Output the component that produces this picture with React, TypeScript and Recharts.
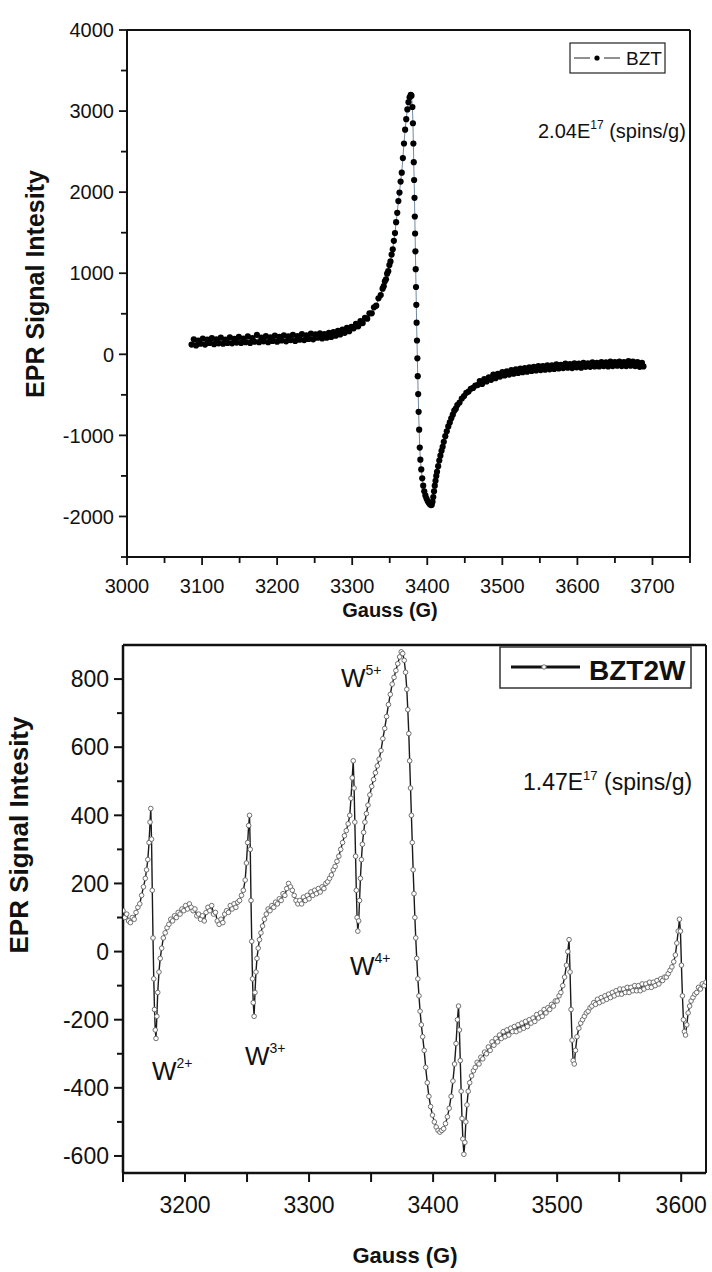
import React from 'react';
import { LineChart, Line, XAxis, YAxis, ReferenceLine } from 'recharts';

const FONT = '"Liberation Sans", Arial, Helvetica, sans-serif';
const INK = '#111';

// ---------- Chart 1 : BZT (field G, signal) ----------
const bztBaseline: number[][] = [
  [3086,120],[3089,185],[3092,110],[3095,170],[3098,130],[3101,195],[3104,120],[3107,180],[3110,140],[3113,200],
  [3116,125],[3119,185],[3122,135],[3125,205],[3128,130],[3131,180],[3134,140],[3137,210],[3140,135],[3143,190],
  [3146,145],[3149,215],[3152,140],[3155,195],[3158,150],[3161,220],[3164,140],[3167,200],[3170,155],[3173,240],
  [3176,150],[3179,205],[3182,160],[3185,225],[3188,150],[3191,210],[3194,165],[3197,230],[3200,155],[3203,215],
  [3206,170],[3209,235],[3212,160],[3215,220],[3218,175],[3221,240],[3224,165],[3227,225],[3230,180],[3233,250],
  [3236,175],[3239,235],[3242,190],[3245,255],[3248,185],[3251,245],[3254,205],[3257,260],[3260,195],[3263,250],
  [3266,205],[3269,265],[3272,215],[3275,275],[3278,230],[3281,290],[3284,245],[3287,305],[3290,265],[3293,325],
  [3296,285],[3299,340],
];
const bztRise: number[][] = [
  [3302,320],[3305,375],[3308,345],[3311,410],[3314,385],[3317,450],[3320,440],[3323,505],[3326,505],[3329,580],
  [3332,600],[3335,690],[3338,730],[3340.5,810],[3342,840],[3343.5,900],[3345,925],[3346.5,995],[3348,1025],[3349.5,1100],
  [3351,1145],[3352.5,1230],[3354,1295],[3355.5,1400],[3357,1495],[3358.5,1630],[3360,1745],[3361.5,1890],[3363,1995],[3364.5,2130],
  [3366,2240],[3367.5,2420],[3369,2600],[3370.5,2770],[3372,2900],[3373.5,3020],[3375,3110],[3376.5,3170],[3378,3200],[3379,3190],
];
const bztFall: number[][] = [
  [3380.2,3050],[3380.9,2850],[3381.5,2600],[3382,2370],[3382.5,2150],[3383,1930],[3383.4,1700],[3383.8,1490],[3384.2,1270],[3384.6,1050],
  [3385,830],[3385.4,610],[3385.8,390],[3386.3,170],[3386.8,-50],[3387.3,-270],[3387.9,-490],[3388.5,-710],[3389.2,-930],[3390,-1150],
  [3390.8,-1300],[3392,-1420],[3393.3,-1530],[3394.6,-1620],[3396,-1690],[3397.5,-1740],[3399,-1780],[3400.5,-1810],[3402,-1830],[3403.5,-1850],
  [3405,-1860],[3406,-1855],[3407,-1820],[3408,-1760],[3409,-1690],[3410,-1620],[3411,-1560],[3412,-1500],[3413,-1450],[3414.5,-1380],
  [3416,-1310],[3417.5,-1250],[3419,-1190],[3420.5,-1140],[3422,-1080],[3424,-1010],[3426,-950],[3428,-890],[3430,-840],[3432,-790],
  [3434,-745],[3436,-695],[3438,-670],[3440,-625],[3443,-595],[3446,-545],[3449,-515],[3452,-475],[3455,-460],[3458,-425],
  [3461,-415],[3464,-385],
];
const bztTail: number[][] = [
  [3467,-380],[3470,-330],[3473,-365],[3476,-305],[3479,-335],[3482,-285],[3485,-315],[3488,-250],[3491,-295],[3494,-240],
  [3497,-275],[3500,-220],[3503,-260],[3506,-210],[3509,-250],[3512,-195],[3515,-240],[3518,-185],[3521,-230],[3524,-175],
  [3527,-220],[3530,-170],[3533,-215],[3536,-160],[3539,-205],[3542,-155],[3545,-200],[3548,-145],[3551,-195],[3554,-145],
  [3557,-190],[3560,-135],[3563,-185],[3566,-135],[3569,-180],[3572,-125],[3575,-175],[3578,-130],[3581,-170],[3584,-115],
  [3587,-165],[3590,-120],[3593,-170],[3596,-110],[3599,-160],[3602,-115],[3605,-165],[3608,-105],[3611,-155],[3614,-110],
  [3617,-155],[3620,-100],[3623,-150],[3626,-105],[3629,-150],[3632,-95],[3635,-145],[3638,-100],[3641,-150],[3644,-90],
  [3647,-145],[3650,-95],[3653,-140],[3656,-90],[3659,-145],[3662,-95],[3665,-145],[3668,-85],[3671,-140],[3674,-90],
  [3677,-145],[3680,-95],[3683,-155],[3686,-105],[3688,-150],
];

// ---------- Chart 2 : BZT2W (field G, signal) ----------
const bzt2wW2: number[][] = [
  [3150,120],[3151.5,100],[3153,110],[3154.5,90],[3156,85],[3157.5,100],[3159,95],[3160.5,115],[3162,130],[3163.5,140],
  [3165,165],[3166.5,190],[3168,215],[3169,240],[3170,270],[3171,320],[3171.8,380],[3172.4,420],[3173,330],[3173.6,180],
  [3174.2,40],[3174.8,-80],[3175.4,-170],[3176,-230],[3176.6,-255],[3177.3,-190],[3178,-120],[3179,-60],[3180,-20],[3181.2,10],
  [3182.5,40],[3184,55],[3185.5,70],[3187,80],[3188.5,95],[3190,90],[3191.5,105],[3193,100],[3194.5,115],[3196,110],
  [3197.5,125],[3199,120],
];
const bzt2wW3: number[][] = [
  [3200.5,135],[3202,125],[3203.5,140],[3205,130],[3206.5,120],[3208,125],[3209.5,105],[3211,110],[3212.5,95],[3214,105],
  [3215.5,90],[3217,115],[3218.5,130],[3220,120],[3221.5,135],[3223,110],[3224.5,115],[3226,90],[3227.5,80],[3229,95],
  [3230.5,85],[3232,110],[3233.5,120],[3235,115],[3236.5,135],[3238,125],[3239.5,140],[3241,130],[3242.5,145],[3244,150],
  [3245.5,165],[3247,180],[3248.5,210],[3249.5,260],[3250.5,320],[3251.3,370],[3252,400],[3252.6,300],[3253.2,150],[3253.8,30],
  [3254.4,-80],[3255,-150],[3255.7,-190],[3256.4,-120],[3257.2,-60],[3258,-20],[3259,10],[3260,35],[3261.2,55],[3262.5,75],
  [3264,95],[3265.5,110],[3267,125],[3268.5,120],
];
const bzt2wW4W5: number[][] = [
  [3270,135],[3271.5,130],[3273,145],[3274.5,140],[3276,155],[3277.5,150],[3279,170],[3280.5,165],[3282,185],[3283.5,200],
  [3285,190],[3286.5,180],[3288,165],[3289.5,150],[3291,140],[3292.5,150],[3294,140],[3295.5,160],[3297,150],[3298.5,165],
  [3300,155],[3301.5,175],[3303,165],[3304.5,180],[3306,170],[3307.5,185],[3309,175],[3310.5,190],[3312,185],[3313.5,200],
  [3315,205],[3316.5,215],[3318,225],[3319.5,240],[3321,250],[3322.5,265],[3324,280],[3325.5,300],[3327,320],[3328.5,340],
  [3330,355],[3331.5,375],[3332.8,400],[3333.8,450],[3334.8,510],[3335.6,560],[3336.3,480],[3336.9,380],[3337.5,280],[3338.1,180],
  [3338.7,100],[3339.3,60],[3340,90],[3340.7,150],[3341.4,215],[3342.2,270],[3343,315],[3344,350],[3345,380],[3346.2,405],
  [3347.5,430],[3349,460],[3350.5,485],[3352,505],[3353.5,525],[3355,545],[3356.5,565],[3358,590],[3359.5,625],[3361,655],
  [3362.5,690],[3364,725],[3365.5,755],[3367,785],[3368.5,805],[3370,825],[3371.5,845],[3373,865],[3374.3,880],[3375.5,875],
  [3376.7,855],[3377.8,820],[3378.8,770],[3379.6,710],[3380.4,640],[3381.1,560],[3381.8,480],[3382.5,400],[3383.2,320],[3383.9,240],
  [3384.6,170],[3385.3,100],[3386,40],[3386.8,-20],[3387.7,-80],[3388.6,-130],[3389.5,-175],
];
const bzt2wMain: number[][] = [
  [3390.5,-215],[3391.6,-250],[3392.8,-290],[3394,-340],[3395.3,-385],[3396.6,-425],[3398,-455],[3399.5,-480],[3401,-500],[3402.5,-515],
  [3404,-525],[3405.5,-530],[3407,-525],[3408.5,-520],[3410,-505],[3411.5,-485],[3413,-460],[3414.5,-425],[3416,-380],[3417.3,-330],
  [3418.5,-270],[3419.6,-200],[3420.5,-160],[3421.2,-230],[3421.9,-320],[3422.6,-410],[3423.3,-490],[3424,-550],[3424.8,-595],[3425.6,-560],
  [3426.4,-500],[3427.3,-450],[3428.3,-410],[3429.5,-385],[3431,-365],[3432.5,-350],[3434,-340],[3435.5,-325],[3437,-330],[3438.5,-310],
  [3440,-315],[3441.5,-295],[3443,-300],[3444.5,-280],[3446,-290],[3447.5,-265],[3449,-275],[3450.5,-255],[3452,-265],[3453.5,-245],
  [3455,-255],[3456.5,-235],[3458,-250],[3459.5,-230],[3461,-245],[3462.5,-225],[3464,-235],[3465.5,-220],[3467,-235],[3468.5,-215],
  [3470,-230],[3471.5,-210],[3473,-225],[3474.5,-205],[3476,-220],[3477.5,-200],[3479,-210],[3480.5,-195],[3482,-205],[3483.5,-185],
  [3485,-195],[3486.5,-180],[3488,-190],[3489.5,-170],[3491,-180],[3492.5,-165],[3494,-170],[3495.5,-155],[3497,-160],[3498.5,-145],
];
const bzt2wHigh: number[][] = [
  [3500,-145],[3501.5,-130],[3503,-120],[3504.5,-100],[3506,-75],[3507.5,-40],[3508.6,0],[3509.6,35],[3510.4,-60],[3511.2,-170],
  [3512,-260],[3512.9,-320],[3513.8,-330],[3514.8,-290],[3516,-250],[3517.5,-225],[3519,-210],[3520.5,-200],[3522,-190],[3523.5,-180],
  [3525,-175],[3526.5,-165],[3528,-160],[3529.5,-150],[3531,-155],[3532.5,-140],[3534,-150],[3535.5,-135],[3537,-145],[3538.5,-130],
  [3540,-140],[3541.5,-125],[3543,-135],[3544.5,-120],[3546,-130],[3547.5,-115],[3549,-125],[3550.5,-110],[3552,-125],[3553.5,-110],
  [3555,-120],[3556.5,-105],[3558,-120],[3559.5,-105],[3561,-115],[3562.5,-100],[3564,-115],[3565.5,-100],[3567,-115],[3568.5,-95],
  [3570,-110],[3571.5,-95],[3573,-105],[3574.5,-90],[3576,-105],[3577.5,-90],[3579,-100],[3580.5,-85],[3582,-95],[3583.5,-80],
  [3585,-85],[3586.5,-75],[3588,-75],[3589.5,-65],[3591,-55],[3592.5,-45],[3594,-30],[3595.3,-10],[3596.5,25],[3597.6,60],
  [3598.6,95],[3599.4,60],[3600.2,-40],[3601,-130],[3601.8,-200],[3602.6,-235],[3603.5,-245],[3604.5,-215],[3605.6,-180],[3606.8,-160],
  [3608,-145],[3609.5,-135],[3611,-125],[3612.5,-120],[3614,-105],[3615.5,-110],[3617,-95],[3618.5,-100],[3620,-90],
];

// ---------- Ticks ----------
const bztXTicks = [3000,3050,3100,3150,3200,3250,3300,3350,3400,3450,3500,3550,3600,3650,3700,3750];
const bztYTicks = [-2500,-2000,-1500,-1000,-500,0,500,1000,1500,2000,2500,3000,3500,4000];
const bzt2wXTicks = [3150,3200,3250,3300,3350,3400,3450,3500,3550,3600];
const bzt2wYTicks = [-600,-500,-400,-300,-200,-100,0,100,200,300,400,500,600,700,800];

const toRows = (...parts: number[][][]) =>
  parts.flat().map(([g, v]) => ({ g, v }));

const bztData = toRows(bztBaseline, bztRise, bztFall, bztTail);
const bzt2wData = toRows(bzt2wW2, bzt2wW3, bzt2wW4W5, bzt2wMain, bzt2wHigh);

function makeXTick(step: number, majorLen: number, minorLen: number, fontSize: number, labelDy: number, sw: number) {
  return (props: any) => {
    const { x, y, payload } = props;
    const v = payload.value;
    const major = Math.abs(v % step) < 1e-6;
    return (
      <g>
        <line x1={x} y1={y} x2={x} y2={y + (major ? majorLen : minorLen)} stroke={INK} strokeWidth={sw} />
        {major && (
          <text x={x} y={y + labelDy} textAnchor="middle" fontSize={fontSize} fontFamily={FONT} fill={INK}>
            {v}
          </text>
        )}
      </g>
    );
  };
}

function makeYTick(step: number, majorLen: number, minorLen: number, fontSize: number, labelDx: number, sw: number) {
  return (props: any) => {
    const { x, y, payload } = props;
    const v = payload.value;
    const major = Math.abs(v % step) < 1e-6;
    return (
      <g>
        <line x1={x - (major ? majorLen : minorLen)} y1={y} x2={x} y2={y} stroke={INK} strokeWidth={sw} />
        {major && (
          <text x={x - labelDx} y={y} dy="0.36em" textAnchor="end" fontSize={fontSize} fontFamily={FONT} fill={INK}>
            {v}
          </text>
        )}
      </g>
    );
  };
}

export default function App() {
  return (
    <div style={{ position: 'absolute', left: 0, top: 0, width: 712, height: 1272, background: '#fff', overflow: 'hidden' }}>
      {/* Chart 1 */}
      <div style={{ position: 'absolute', left: 0, top: 0 }}>
        <LineChart width={712} height={620} data={bztData} margin={{ top: 30, right: 22, bottom: 0, left: 0 }}>
          <XAxis
            dataKey="g"
            type="number"
            domain={[3000, 3750]}
            ticks={bztXTicks}
            interval={0}
            allowDataOverflow
            height={63}
            tickSize={0}
            tickMargin={0}
            tickLine={false}
            axisLine={{ stroke: INK, strokeWidth: 2 }}
            tick={makeXTick(100, 8, 6, 20, 36, 1.8)}
          />
          <YAxis
            type="number"
            domain={[-2500, 4000]}
            ticks={bztYTicks}
            interval={0}
            allowDataOverflow
            width={127}
            tickSize={0}
            tickMargin={0}
            tickLine={false}
            axisLine={{ stroke: INK, strokeWidth: 2 }}
            tick={makeYTick(1000, 8, 6, 20, 13, 1.8)}
          />
          <ReferenceLine y={4000} stroke={INK} strokeWidth={2} />
          <ReferenceLine x={3750} stroke={INK} strokeWidth={2} />
          <Line
            dataKey="v"
            type="linear"
            stroke="#4d6b8a"
            strokeWidth={0.8}
            dot={{ r: 3.1, fill: '#000', stroke: 'none' }}
            activeDot={false}
            isAnimationActive={false}
          />
        </LineChart>
      </div>

      {/* Chart 2 */}
      <div style={{ position: 'absolute', left: 0, top: 630 }}>
        <LineChart width={712} height={642} data={bzt2wData} margin={{ top: 15, right: 6, bottom: 0, left: 0 }}>
          <XAxis
            dataKey="g"
            type="number"
            domain={[3150, 3620]}
            ticks={bzt2wXTicks}
            interval={0}
            allowDataOverflow
            height={99}
            tickSize={0}
            tickMargin={0}
            tickLine={false}
            axisLine={{ stroke: INK, strokeWidth: 2.5 }}
            tick={makeXTick(100, 9, 9, 23, 40, 2)}
          />
          <YAxis
            type="number"
            domain={[-650, 900]}
            ticks={bzt2wYTicks}
            interval={0}
            allowDataOverflow
            width={123}
            tickSize={0}
            tickMargin={0}
            tickLine={false}
            axisLine={{ stroke: INK, strokeWidth: 2.5 }}
            tick={makeYTick(200, 9, 6, 23, 14, 2)}
          />
          <ReferenceLine y={900} stroke={INK} strokeWidth={2.5} />
          <ReferenceLine x={3620} stroke={INK} strokeWidth={2} />
          <Line
            dataKey="v"
            type="linear"
            stroke="#1a1a1a"
            strokeWidth={1.4}
            dot={{ r: 2.3, fill: '#fff', stroke: '#6f6f6f', strokeWidth: 1 }}
            activeDot={false}
            isAnimationActive={false}
          />
        </LineChart>
      </div>

      {/* Annotations */}
      <svg width={712} height={1272} style={{ position: 'absolute', left: 0, top: 0, pointerEvents: 'none' }} fontFamily={FONT}>
        {/* Chart 1 legend */}
        <rect x={570} y={43} width={95} height={30} fill="#fff" stroke="#222" strokeWidth={1.2} />
        <line x1={574} y1={58} x2={590} y2={58} stroke="#222" strokeWidth={1} />
        <line x1={604} y1={58} x2={620} y2={58} stroke="#222" strokeWidth={1} />
        <circle cx={597} cy={58} r={2.6} fill="#000" />
        <text x={626} y={65} fontSize={19} fill={INK}>BZT</text>
        <text x={538} y={138} fontSize={20} fill={INK}>
          2.04E<tspan fontSize={12} dy={-9}>17</tspan><tspan dy={9}> (spins/g)</tspan>
        </text>
        <text x={390} y={617} fontSize={20} fontWeight="bold" textAnchor="middle" fill={INK}>Gauss (G)</text>
        <text transform="translate(44,284) rotate(-90)" fontSize={25} fontWeight="bold" textAnchor="middle" fill={INK}>
          EPR Signal Intesity
        </text>

        {/* Chart 2 legend */}
        <rect x={500} y={647} width={191} height={41} fill="#fff" stroke="#333" strokeWidth={1.5} />
        <line x1={511} y1={667} x2={580} y2={667} stroke="#111" strokeWidth={3} />
        <circle cx={544} cy={667} r={2.2} fill="#fff" stroke="#6f6f6f" strokeWidth={1} />
        <text x={589} y={680} fontSize={28} fontWeight="bold" fill={INK}>BZT2W</text>
        <text x={523} y={790} fontSize={23} fill={INK}>
          1.47E<tspan fontSize={13} dy={-10}>17</tspan><tspan dy={10}> (spins/g)</tspan>
        </text>
        <text x={341} y={687} fontSize={26} fill={INK}>W<tspan fontSize={14} dy={-12}>5+</tspan></text>
        <text x={152} y={1080} fontSize={26} fill={INK}>W<tspan fontSize={14} dy={-12}>2+</tspan></text>
        <text x={245} y={1065} fontSize={26} fill={INK}>W<tspan fontSize={14} dy={-12}>3+</tspan></text>
        <text x={350} y={975} fontSize={26} fill={INK}>W<tspan fontSize={14} dy={-12}>4+</tspan></text>
        <text x={405} y={1263} fontSize={22} fontWeight="bold" textAnchor="middle" fill={INK}>Gauss (G)</text>
        <text transform="translate(28,835) rotate(-90)" fontSize={26} fontWeight="bold" textAnchor="middle" fill={INK}>
          EPR Signal Intesity
        </text>
      </svg>
    </div>
  );
}
